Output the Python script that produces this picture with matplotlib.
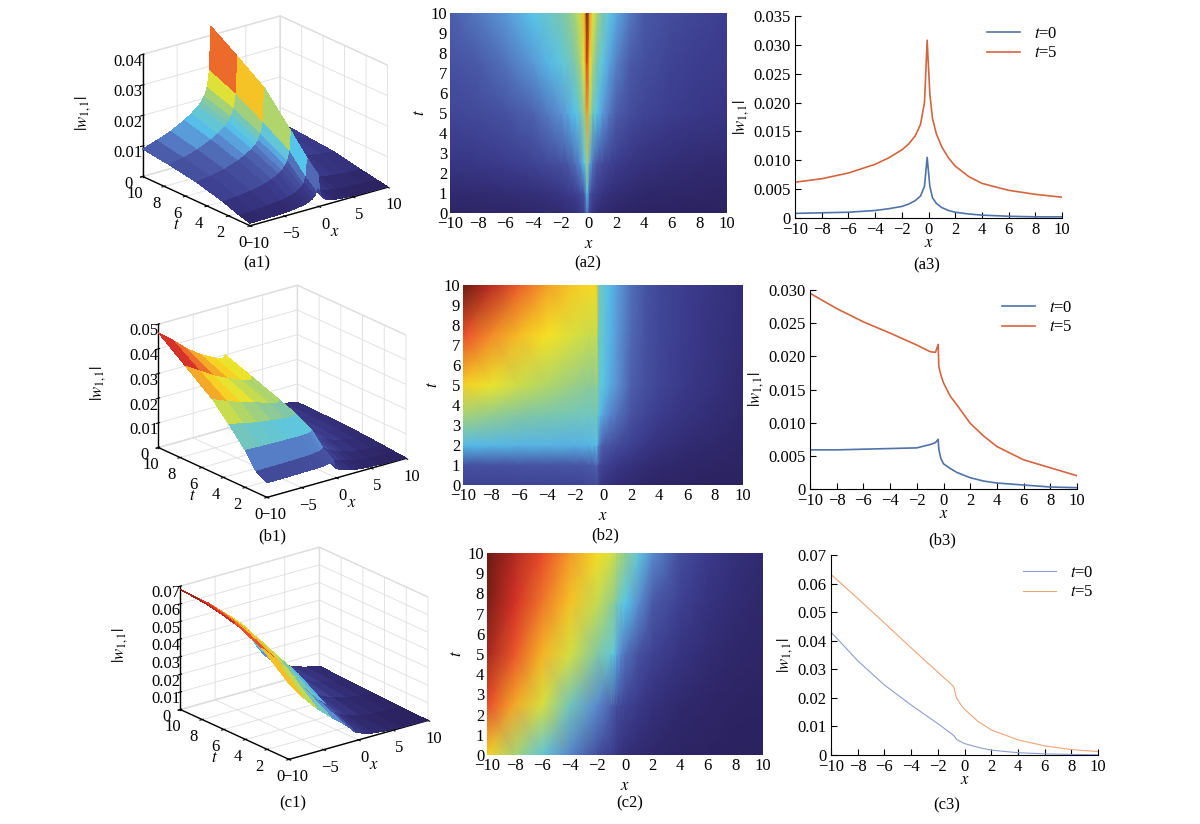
import numpy as np
import matplotlib
matplotlib.use("Agg")
from matplotlib import pyplot as plt
from matplotlib.colors import LinearSegmentedColormap

plt.rcParams["font.family"] = ["Liberation Serif", "DejaVu Serif"]
plt.rcParams["mathtext.fontset"] = "stix"
plt.rcParams["font.size"] = 12
plt.rcParams["grid.color"] = "#dedede"
plt.rcParams["grid.linewidth"] = 0.6

# ---- row a : |w_{1,1}| ----
xa = [-10, -8, -6, -4, -3, -2, -1.5, -1, -0.6, -0.3, -0.1, 0.1, 0.3, 0.6, 1, 1.5, 2, 3, 4, 6, 8, 10]
ta = [0, 1, 2.5, 5, 7.5, 10]
wa = [
    [0.0008, 0.0009, 0.0010, 0.0013, 0.0016, 0.0020, 0.0024, 0.0030, 0.0038, 0.0055, 0.0105,
     0.0055, 0.0035, 0.0025, 0.0018, 0.0013, 0.0010, 0.0007, 0.0005, 0.0003, 0.0002, 0.0002],
    [0.0018, 0.0020, 0.0023, 0.0028, 0.0032, 0.0038, 0.0044, 0.0052, 0.0064, 0.0085, 0.0140,
     0.0080, 0.0060, 0.0048, 0.0038, 0.0030, 0.0025, 0.0019, 0.0015, 0.0011, 0.0009, 0.0008],
    [0.0038, 0.0042, 0.0048, 0.0058, 0.0066, 0.0077, 0.0085, 0.0098, 0.0115, 0.0145, 0.0205,
     0.0130, 0.0103, 0.0085, 0.0070, 0.0057, 0.0049, 0.0038, 0.0031, 0.0024, 0.0020, 0.0018],
    [0.0062, 0.0068, 0.0078, 0.0093, 0.0104, 0.0118, 0.0128, 0.0142, 0.0162, 0.0200, 0.0308,
     0.0215, 0.0172, 0.0145, 0.0123, 0.0104, 0.0090, 0.0072, 0.0060, 0.0048, 0.0041, 0.0036],
    [0.0078, 0.0088, 0.0102, 0.0122, 0.0135, 0.0152, 0.0164, 0.0182, 0.0206, 0.0252, 0.0370,
     0.0265, 0.0212, 0.0178, 0.0150, 0.0127, 0.0110, 0.0088, 0.0074, 0.0058, 0.0050, 0.0044],
    [0.0090, 0.0105, 0.0122, 0.0145, 0.0160, 0.0178, 0.0190, 0.0208, 0.0236, 0.0290, 0.0430,
     0.0310, 0.0250, 0.0210, 0.0178, 0.0150, 0.0130, 0.0104, 0.0087, 0.0069, 0.0059, 0.0052],
]

# ---- row b ----
xb = [-10, -8, -6, -4, -2, -1, -0.6, -0.4, -0.35, -0.2, 0, 0.5, 1, 2, 3, 4, 6, 8, 10]
tb = [0, 1, 2, 3.5, 5, 7.5, 10]
wb = [
    [0.0059, 0.0059, 0.0060, 0.0061, 0.0062, 0.0067, 0.0070, 0.0075, 0.0060, 0.0046,
     0.0038, 0.0031, 0.0025, 0.0017, 0.0012, 0.0009, 0.0006, 0.0003, 0.0002],
    [0.0085, 0.0085, 0.0086, 0.0087, 0.0089, 0.0094, 0.0097, 0.0103, 0.0085, 0.0070,
     0.0062, 0.0053, 0.0045, 0.0033, 0.0025, 0.0019, 0.0012, 0.0008, 0.0006],
    [0.0150, 0.0148, 0.0146, 0.0145, 0.0144, 0.0146, 0.0148, 0.0155, 0.0125, 0.0108,
     0.0097, 0.0086, 0.0076, 0.0057, 0.0044, 0.0034, 0.0022, 0.0015, 0.0010],
    [0.0225, 0.0212, 0.0200, 0.0192, 0.0185, 0.0182, 0.0182, 0.0192, 0.0160, 0.0147,
     0.0137, 0.0121, 0.0109, 0.0084, 0.0066, 0.0052, 0.0035, 0.0025, 0.0016],
    [0.0295, 0.0272, 0.0252, 0.0235, 0.0217, 0.0207, 0.0206, 0.0218, 0.0185, 0.0172,
     0.0160, 0.0140, 0.0127, 0.0099, 0.0080, 0.0064, 0.0044, 0.0032, 0.0020],
    [0.0380, 0.0345, 0.0310, 0.0283, 0.0260, 0.0250, 0.0248, 0.0260, 0.0195, 0.0180,
     0.0167, 0.0146, 0.0132, 0.0104, 0.0084, 0.0068, 0.0048, 0.0035, 0.0024],
    [0.0465, 0.0420, 0.0370, 0.0330, 0.0300, 0.0290, 0.0287, 0.0300, 0.0205, 0.0188,
     0.0172, 0.0150, 0.0135, 0.0107, 0.0086, 0.0070, 0.0050, 0.0037, 0.0026],
]

# ---- row c ----
xc = [-10, -8, -6, -4, -2, -1, -0.8, -0.6, -0.3, 0, 1, 2, 4, 6, 8, 10]
tc = [0, 2.5, 5, 7.5, 10]
wc = [
    [0.0430, 0.0330, 0.0245, 0.0175, 0.0110, 0.0075, 0.0068, 0.0055, 0.0047, 0.0040,
     0.0027, 0.0017, 0.0008, 0.0004, 0.0002, 0.0001],
    [0.0560, 0.0475, 0.0380, 0.0270, 0.0180, 0.0145, 0.0138, 0.0115, 0.0102, 0.0092,
     0.0065, 0.0045, 0.0023, 0.0012, 0.0007, 0.0004],
    [0.0632, 0.0548, 0.0462, 0.0375, 0.0290, 0.0248, 0.0238, 0.0200, 0.0178, 0.0160,
     0.0118, 0.0088, 0.0053, 0.0032, 0.0019, 0.0012],
    [0.0665, 0.0590, 0.0520, 0.0445, 0.0360, 0.0310, 0.0300, 0.0275, 0.0250, 0.0230,
     0.0180, 0.0135, 0.0082, 0.0050, 0.0031, 0.0019],
    [0.0680, 0.0620, 0.0560, 0.0490, 0.0420, 0.0380, 0.0370, 0.0350, 0.0330, 0.0310,
     0.0240, 0.0180, 0.0110, 0.0068, 0.0042, 0.0026],
]

za_ticks = [0, 0.01, 0.02, 0.03, 0.04]
zb_ticks = [0, 0.01, 0.02, 0.03, 0.04, 0.05]
zc_ticks = [0, 0.01, 0.02, 0.03, 0.04, 0.05, 0.06, 0.07]
ya_ticks = [0, 0.005, 0.010, 0.015, 0.020, 0.025, 0.030, 0.035]
yb_ticks = [0, 0.005, 0.010, 0.015, 0.020, 0.025, 0.030]
yc_ticks = [0, 0.01, 0.02, 0.03, 0.04, 0.05, 0.06, 0.07]

cm_stops = [0.0, 0.10, 0.20, 0.27, 0.33, 0.42, 0.52, 0.60, 0.72, 0.85, 1.0]
cm_colors = ["#2b2260", "#3b3a8c", "#4a5aa8", "#5b90d4", "#55c6ec", "#7fc6a8",
             "#bcd95a", "#f6e622", "#f49a2a", "#e5352a", "#6b1a14"]
cmap = LinearSegmentedColormap.from_list("w11", list(zip(cm_stops, cm_colors)))

W, H = 1200, 824
fig = plt.figure(figsize=(W / 100, H / 100), dpi=100)
wlabel = r"$|w_{1,1}|$"


def surface(rect, x, t, w, zt, zlabels):
    ax = fig.add_axes(rect, projection="3d")
    ax.patch.set_alpha(0)
    X, T = np.meshgrid(x, t)
    w = np.array(w)
    ax.plot_surface(X, T, w, cmap=cmap, rstride=1, cstride=1, linewidth=0,
                    antialiased=False, shade=False, vmin=w.min(), vmax=w.max())
    ax.set_proj_type("ortho")
    ax.view_init(elev=21, azim=-128)
    ax.set_xlim(-10, 10)
    ax.set_ylim(0, 10)
    ax.set_zlim(0, zt[-1])
    ax.set_xticks([-10, -5, 0, 5, 10])
    ax.set_xticklabels(["\u221210", "\u22125", "0", "5", "10"])
    ax.set_yticks([0, 2, 4, 6, 8, 10])
    ax.set_zticks(zt)
    ax.set_zticklabels(zlabels)
    for axis in (ax.xaxis, ax.yaxis, ax.zaxis):
        axis.set_pane_color((1, 1, 1, 1))
        axis.pane.set_edgecolor("#dedede")
        axis.line.set_color("black")
        axis.line.set_linewidth(1.0)
    ax.set_xlabel("$x$", labelpad=-6)
    ax.set_ylabel("$t$", labelpad=-6)
    ax.zaxis.set_rotate_label(False)
    ax.set_zlabel(wlabel, rotation=90, labelpad=4)
    ax.tick_params(pad=-2)
    return ax


def heatmap(rect, x, t, w):
    ax = fig.add_axes(rect)
    X, T = np.meshgrid(x, t)
    w = np.array(w)
    ax.pcolormesh(X, T, w, shading="gouraud", cmap=cmap, vmin=w.min(), vmax=w.max())
    ax.set_xlim(-10, 10)
    ax.set_ylim(0, 10)
    ax.set_xticks(range(-10, 11, 2))
    ax.set_yticks(range(0, 11))
    for s in ax.spines.values():
        s.set_visible(False)
    ax.tick_params(length=0, pad=2)
    ax.set_xlabel("$x$", labelpad=3)
    ax.set_ylabel("$t$", labelpad=2)
    return ax


def lines(rect, x, t, w, yt, ylabels, c0, c5, lw):
    ax = fig.add_axes(rect)
    i0, i5 = t.index(0), t.index(5)
    ax.plot(x, w[i0], color=c0, lw=lw, label="$t$=0")
    ax.plot(x, w[i5], color=c5, lw=lw, label="$t$=5")
    ax.set_xlim(-10, 10)
    ax.set_ylim(0, yt[-1])
    ax.set_xticks(range(-10, 11, 2))
    ax.set_yticks(yt)
    ax.set_yticklabels(ylabels)
    ax.spines["top"].set_visible(False)
    ax.spines["right"].set_visible(False)
    ax.tick_params(direction="in", length=4, pad=3)
    ax.set_xlabel("$x$", labelpad=-2)
    ax.set_ylabel(wlabel, labelpad=2)
    ax.legend(loc="upper right", frameon=False, handlelength=2.0, borderaxespad=0.2,
              labelspacing=0.2, bbox_to_anchor=(1.02, 1.0))
    return ax


def rect(x0, y0, x1, y1):
    return [x0 / W, 1 - y1 / H, (x1 - x0) / W, (y1 - y0) / H]


lab3 = lambda ts: ["0" if v == 0 else "%.3f" % v for v in ts]
lab2 = lambda ts: ["0" if v == 0 else "%.2f" % v for v in ts]

surface(rect(82, -11, 441, 260), xa, ta, wa, za_ticks, lab2(za_ticks))
surface(rect(97, 258, 460, 532), xb, tb, wb, zb_ticks, lab2(zb_ticks))
surface(rect(119, 520, 482, 794), xc, tc, wc, zc_ticks, lab2(zc_ticks))

heatmap(rect(450, 13, 727, 213), xa, ta, wa)
heatmap(rect(463, 285, 743, 485), xb, tb, wb)
heatmap(rect(487, 553, 763, 755), xc, tc, wc)

lines(rect(795, 16, 1062, 218), xa, ta, wa, ya_ticks, lab3(ya_ticks), "#4f73a8", "#d5653f", 1.2)
lines(rect(810, 290, 1077, 489), xb, tb, wb, yb_ticks, lab3(yb_ticks), "#4f73a8", "#d5653f", 1.2)
lines(rect(831, 555, 1098, 755), xc, tc, wc, yc_ticks, lab2(yc_ticks), "#8c9fd0", "#eea477", 0.8)

for name, px, py in [("(a1)", 257, 263), ("(a2)", 588, 263), ("(a3)", 927, 265),
                     ("(b1)", 272, 536), ("(b2)", 605, 535), ("(b3)", 942, 540),
                     ("(c1)", 293, 803), ("(c2)", 630, 803), ("(c3)", 947, 805)]:
    fig.text(px / W, 1 - py / H, name, ha="center", va="center", fontsize=12)

fig.savefig("out.png", dpi=100)
